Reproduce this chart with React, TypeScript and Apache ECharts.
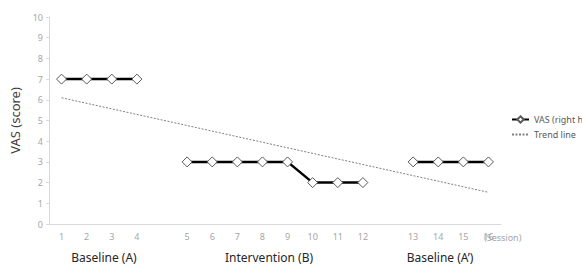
import React, { useEffect, useRef } from "react";
import * as echarts from "echarts";

const categories = ["1", "2", "3", "4", "", "5", "6", "7", "8", "9", "10", "11", "12", "", "13", "14", "15", "16"];
const vasValues = [7, 7, 7, 7, null, 3, 3, 3, 3, 3, 2, 2, 2, null, 3, 3, 3, 3];
const trendValues = [6.1, null, null, null, null, null, null, null, null, null, null, null, null, null, null, null, null, 1.53];
const yTicks = [0, 10];
const phaseLabels = [
  { text: "Baseline (A)", x: 104 },
  { text: "Intervention (B)", x: 269 },
  { text: "Baseline (A\u2019)", x: 440 },
];

const FONT = "Noto Sans";

export default function App() {
  const ref = useRef<HTMLDivElement>(null);
  useEffect(() => {
    const chart = echarts.init(ref.current!, null, { renderer: "svg" });
    chart.setOption({
      animation: false,
      textStyle: { fontFamily: FONT },
      grid: { left: 45, right: 81, top: 17, bottom: 43 },
      legend: {
        orient: "vertical",
        left: 506,
        top: 110,
        padding: 5,
        itemWidth: 17,
        itemHeight: 8,
        itemGap: 6,
        textStyle: { fontSize: 9, color: "#595959", fontFamily: FONT },
        data: [
          { name: "VAS (right hand)" },
          { name: "Trend line", itemStyle: { opacity: 0 } },
        ],
      },
      xAxis: {
        type: "category",
        data: categories,
        boundaryGap: true,
        axisLine: { lineStyle: { color: "#d9d9d9", width: 1 } },
        axisTick: { show: false },
        axisLabel: { fontSize: 9, color: "#a6a6a6", margin: 8, interval: 0 },
        splitLine: { show: false },
      },
      yAxis: {
        type: "value",
        min: yTicks[0],
        max: yTicks[1],
        interval: 1,
        name: "VAS (score)",
        nameLocation: "middle",
        nameGap: 28,
        nameTextStyle: { fontSize: 13, color: "#404040" },
        axisLine: { show: true, lineStyle: { color: "#d9d9d9" } },
        axisTick: { show: true, length: 3, lineStyle: { color: "#d9d9d9" } },
        axisLabel: { fontSize: 9, color: "#a6a6a6", margin: 6 },
        splitLine: { show: false },
      },
      series: [
        {
          name: "VAS (right hand)",
          type: "line",
          data: vasValues,
          connectNulls: false,
          symbol: "diamond",
          symbolSize: 10,
          itemStyle: { color: "#ffffff", borderColor: "#595959", borderWidth: 1 },
          lineStyle: { color: "#000000", width: 2.5 },
          z: 3,
        },
        {
          name: "Trend line",
          type: "line",
          data: trendValues,
          connectNulls: true,
          symbol: "none",
          itemStyle: { color: "#808080" },
          lineStyle: { color: "#808080", width: 1, type: [2, 1.5] },
          z: 2,
        },
      ],
      graphic: [
        ...phaseLabels.map((p) => ({
          type: "text",
          x: p.x,
          y: 257,
          style: {
            text: p.text,
            fontSize: 12,
            fontFamily: FONT,
            fill: "#262626",
            textAlign: "center",
            textVerticalAlign: "middle",
          },
        })),
        {
          type: "text",
          x: 484,
          y: 237,
          style: {
            text: "(Session)",
            fontSize: 9,
            fontFamily: FONT,
            fill: "#a6a6a6",
            textAlign: "left",
            textVerticalAlign: "middle",
          },
        },
      ],
    });
    return () => chart.dispose();
  }, []);
  return (
    <div
      ref={ref}
      style={{ position: "fixed", left: 0, top: 0, width: 582, height: 267, background: "#ffffff" }}
    />
  );
}
